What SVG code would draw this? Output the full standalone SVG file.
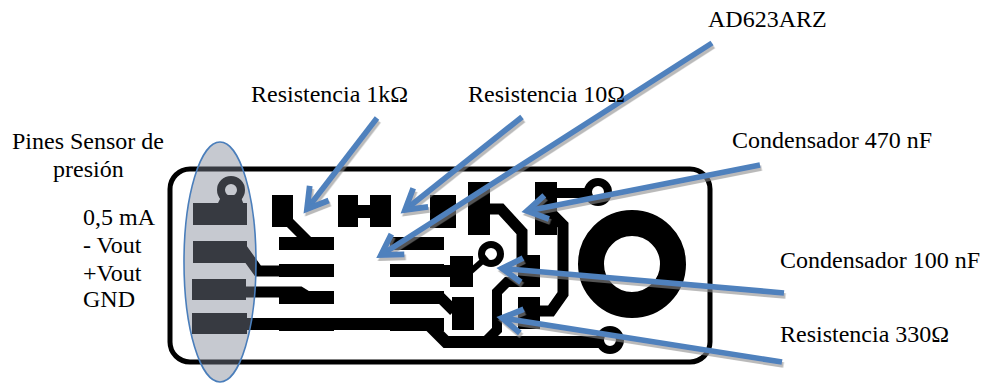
<svg xmlns="http://www.w3.org/2000/svg" width="988" height="385" viewBox="0 0 988 385">
<style>
text{font-family:"Liberation Serif","Times New Roman",serif;font-size:24px;fill:#000}
.cu{fill:#000;stroke:none}
.tr{fill:none;stroke:#000;stroke-linejoin:miter}
.ring{fill:none;stroke:#000}
.arrow{fill:none;stroke:#4f81bd;stroke-width:5.6;marker-end:url(#head)}
</style>
<defs>
<marker id="head" viewBox="0 0 34 30" refX="26" refY="15" markerWidth="34" markerHeight="30" markerUnits="userSpaceOnUse" orient="auto" overflow="visible">
<path d="M6 3 L26 15 L6 27" fill="none" stroke="#4f81bd" stroke-width="5.8" stroke-linejoin="miter"/>
</marker>
<filter id="soft" x="-5%" y="-5%" width="110%" height="110%"><feGaussianBlur stdDeviation="0.7"/></filter>
<filter id="shadow" x="-10%" y="-10%" width="120%" height="120%"><feDropShadow dx="1.5" dy="3" stdDeviation="0.6" flood-color="#8c8c8c" flood-opacity="0.6"/></filter>
</defs>
<g id="board" filter="url(#soft)">
<rect x="170" y="169" width="540" height="193" rx="20" fill="#fff" stroke="#000" stroke-width="5"/>
<g id="traces">
<path class="tr" stroke-width="11" d="M240 246 L258 271 H334"/>
<path class="tr" stroke-width="11" d="M240 292 H300 L308 297 H334"/>
<path class="tr" stroke-width="12" d="M240 324 H428 L446 342 H600"/>
<path class="tr" stroke-width="12" d="M390 271 H462"/>
<path class="tr" stroke-width="11" d="M390 297 H440 L454 311"/>
<path class="tr" stroke-width="10" d="M485 342 L497 330 V292 L507 282 H522"/>
<path class="tr" stroke-width="11" d="M490 209 H501 L522 232 V262 H530"/>
<path class="tr" stroke-width="11" d="M550 212 L563 225 V294 L551 311 H535"/>
<path class="tr" stroke-width="10" d="M550 193 H590"/>
<path class="tr" stroke-width="6" d="M470 272 L487 257"/>
<path class="tr" stroke-width="10" d="M285 218 L309 242"/>
<rect class="cu" x="358" y="205" width="12" height="13"/>
</g>
<g id="pads">
<rect class="cu" x="272" y="195" width="21" height="32"/>
<rect class="cu" x="279" y="237" width="55" height="13"/>
<rect class="cu" x="279" y="264" width="55" height="13"/>
<rect class="cu" x="279" y="291" width="55" height="13"/>
<rect class="cu" x="279" y="318" width="55" height="13"/>
<rect class="cu" x="338" y="195" width="20" height="32"/>
<rect class="cu" x="370" y="195" width="21" height="32"/>
<rect class="cu" x="430" y="195" width="26" height="33"/>
<rect class="cu" x="390" y="237" width="54" height="13"/>
<rect class="cu" x="390" y="264" width="54" height="13"/>
<rect class="cu" x="390" y="291" width="54" height="13"/>
<rect class="cu" x="390" y="318" width="54" height="13"/>
<rect class="cu" x="450" y="256" width="23" height="31"/>
<rect class="cu" x="452" y="297" width="22" height="33"/>
<rect class="cu" x="468" y="182" width="22" height="53"/>
<rect class="cu" x="535" y="182" width="22" height="53"/>
<rect class="cu" x="518" y="255" width="22" height="32"/>
<rect class="cu" x="518" y="297" width="22" height="32"/>
<rect class="cu" x="193" y="203" width="54" height="22"/>
<rect class="cu" x="193" y="241" width="54" height="22"/>
<rect class="cu" x="192" y="279" width="54" height="21"/>
<rect class="cu" x="192" y="313" width="55" height="21"/>
<path class="cu" d="M217 205 L222 195 L240 195 L244 205 Z"/>
<circle class="ring" cx="231" cy="190" r="10" stroke-width="8"/>
<circle class="ring" cx="491" cy="254" r="9.5" stroke-width="7"/>
<circle class="ring" cx="598" cy="192" r="10" stroke-width="8"/>
<circle class="ring" cx="610" cy="340" r="10" stroke-width="8"/>
<circle class="ring" cx="632" cy="264" r="41" stroke-width="26"/>
</g>
</g>
<ellipse id="pins-highlight" cx="220" cy="262" rx="36" ry="120" fill="#7d8494" fill-opacity="0.44" stroke="#4a7ebb" stroke-width="1.6"/>
<g id="connectors" filter="url(#shadow)">
<path class="arrow" d="M377 118 L307 209"/>
<path class="arrow" d="M522 117 L405 210"/>
<path class="arrow" d="M712 43 L381 255"/>
<path class="arrow" d="M760 165 L527 211"/>
<path class="arrow" d="M784 293 L502 268.4"/>
<path class="arrow" d="M782 362 L502 318"/>
</g>
<g id="labels">
<text x="708" y="27">AD623ARZ</text>
<text x="251" y="102">Resistencia 1kΩ</text>
<text x="468" y="102">Resistencia 10Ω</text>
<text x="12" y="149">Pines Sensor de</text>
<text x="53" y="177">presión</text>
<text x="83" y="225">0,5 mA</text>
<text x="83" y="253">- Vout</text>
<text x="83" y="281">+Vout</text>
<text x="83" y="307">GND</text>
<text x="732" y="148">Condensador 470 nF</text>
<text x="780" y="268">Condensador 100 nF</text>
<text x="780" y="342">Resistencia 330Ω</text>
</g>
</svg>
